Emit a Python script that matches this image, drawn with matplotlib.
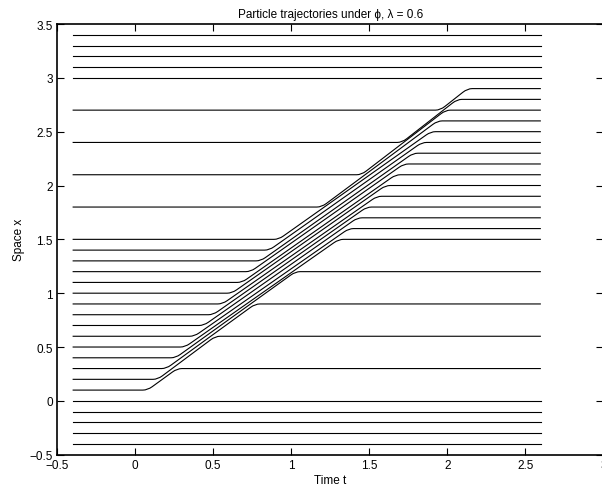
import numpy as np
import matplotlib.pyplot as plt
from matplotlib.path import Path
from matplotlib.patches import PathPatch

plt.rcParams['font.family'] = ['Liberation Sans', 'DejaVu Sans']
plt.rcParams['font.size'] = 8.5

# particles that never move
still_pos = [-0.4, -0.3, -0.2, -0.1, 0.0, 3.0, 3.1, 3.2, 3.3, 3.4]

# moving particles: start position, end position, time they leave / stop
start_pos = [0.1, 0.2, 0.3, 0.4, 0.5, 0.6, 0.7, 0.8, 0.9, 1.0,
             1.1, 1.2, 1.3, 1.4, 1.5, 1.8, 2.1, 2.4, 2.7]
end_pos = [0.3, 0.6, 0.9, 1.2, 1.5, 1.6, 1.7, 1.8, 1.9, 2.0,
           2.1, 2.2, 2.3, 2.4, 2.5, 2.6, 2.7, 2.8, 2.9]
t_leave = [0.05, 0.115, 0.17, 0.23, 0.29, 0.35, 0.41, 0.47, 0.53, 0.59,
           0.655, 0.71, 0.775, 0.83, 0.89, 1.165, 1.42, 1.68, 1.925]
t_stop = [0.30, 0.545, 0.80, 1.058, 1.335, 1.40, 1.455, 1.515, 1.58, 1.635,
          1.70, 1.752, 1.812, 1.868, 1.925, 1.968, 2.02, 2.094, 2.16]

t_range = [-0.4, 2.6]

xticks = [-0.5, 0, 0.5, 1, 1.5, 2, 2.5, 3]
xtick_labels = ['\u22120.5', '0', '0.5', '1', '1.5', '2', '2.5', '3']
yticks = [-0.5, 0, 0.5, 1, 1.5, 2, 2.5, 3, 3.5]
ytick_labels = ['\u22120.5', '0', '0.5', '1', '1.5', '2', '2.5', '3', '3.5']

ROUND = 0.03  # half width of the rounded bends (in t)


def trajectory(x0, x1, tl, ts):
    """flat - ramp - flat path with rounded corners"""
    c1 = np.array([tl + ROUND, x0])
    c2 = np.array([ts - ROUND, x1])
    f = ROUND / (c2[0] - c1[0])
    verts = [(t_range[0], x0), (tl, x0), c1, c1 + f * (c2 - c1),
             c2 - f * (c2 - c1), c2, (ts, x1), (t_range[1], x1)]
    codes = [Path.MOVETO, Path.LINETO, Path.CURVE3, Path.CURVE3,
             Path.LINETO, Path.CURVE3, Path.CURVE3, Path.LINETO]
    return Path([tuple(v) for v in verts], codes)


fig = plt.figure(figsize=(6.02, 4.89), dpi=100)
ax = fig.add_axes([57.0 / 602, 33.3 / 489, 546.3 / 602, 430.7 / 489])

for x in still_pos:
    ax.plot(t_range, [x, x], color='black', lw=0.8)

for x0, x1, tl, ts in zip(start_pos, end_pos, t_leave, t_stop):
    ax.add_patch(PathPatch(trajectory(x0, x1, tl, ts), fill=False,
                           edgecolor='black', lw=0.8))

ax.set_xlim(-0.5, 3)
ax.set_ylim(-0.5, 3.5)
ax.set_xticks(xticks)
ax.set_xticklabels(xtick_labels)
ax.set_yticks(yticks)
ax.set_yticklabels(ytick_labels)
ax.tick_params(direction='in', length=5, width=0.8, top=True, right=True, pad=3)
for s in ax.spines.values():
    s.set_linewidth(1.2)

ax.set_title('Particle trajectories under \u03d5, \u03bb = 0.6', fontsize=8.5, pad=5)
ax.set_xlabel('Time t', labelpad=2)
ax.set_ylabel('Space x', labelpad=3.5)

fig.savefig('out.png', dpi=100)
